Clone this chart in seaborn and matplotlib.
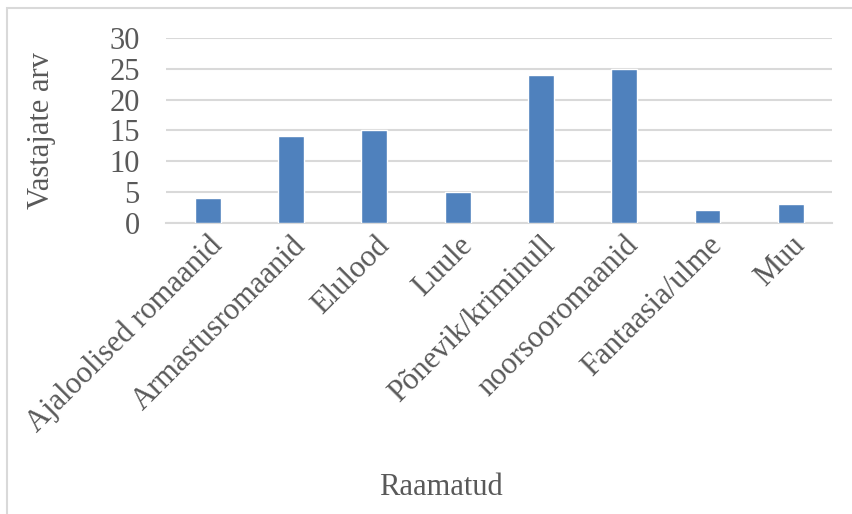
import matplotlib
matplotlib.use("Agg")
import matplotlib.pyplot as plt
import pandas as pd
import seaborn as sns
from matplotlib.patches import Rectangle

categories = [
    "Ajaloolised romaanid",
    "Armastusromaanid",
    "Elulood",
    "Luule",
    "Põnevik/kriminull",
    "noorsooromaanid",
    "Fantaasia/ulme",
    "Muu",
]
values = [4, 14, 15, 5, 24, 25, 2, 3]

TEXT = "#595959"
GRID = "#D9D9D9"
BAR = "#4F81BD"


def main():
    sns.set_theme(style="white")
    plt.rcParams["font.family"] = ["Liberation Serif", "DejaVu Serif"]

    df = pd.DataFrame({"cat": categories, "val": values})

    fig = plt.figure(figsize=(8.52, 5.14), dpi=100)
    ax = fig.add_axes([0.195, 0.567, 0.782, 0.359])
    sns.barplot(data=df, x="cat", y="val", color=BAR, width=0.31,
                saturation=1, ax=ax, zorder=3)

    ax.set_ylim(0, 30)
    ax.set_yticks(range(0, 31, 5))
    ax.set_xlim(-0.5, len(categories) - 0.5)
    ax.grid(axis="y", color=GRID, linewidth=1.5, zorder=0)
    for s in ["top", "right", "left"]:
        ax.spines[s].set_visible(False)
    ax.spines["bottom"].set_color(GRID)
    ax.spines["bottom"].set_linewidth(1.5)
    ax.tick_params(axis="both", length=0, labelsize=22, labelcolor=TEXT)
    ax.tick_params(axis="y", pad=19)
    ax.tick_params(axis="x", pad=6)
    plt.setp(ax.get_xticklabels(), rotation=45, ha="right", rotation_mode="anchor")

    ax.set_xlabel("")
    ax.set_ylabel("Vastajate arv", fontsize=22, color=TEXT)
    ax.yaxis.set_label_coords(-(166 - 56) / 666, 0.5)
    fig.text(0.517, 0.052, "Raamatud", fontsize=22, color=TEXT, ha="center", va="center")

    fig.patches.append(Rectangle((7 / 852, -0.1), 2.0, 1 - 8 / 514 + 0.1,
                                 transform=fig.transFigure, fill=False,
                                 edgecolor="#D9D9D9", linewidth=1.5))

    fig.savefig("out.png", dpi=100)


if __name__ == "__main__":
    main()
